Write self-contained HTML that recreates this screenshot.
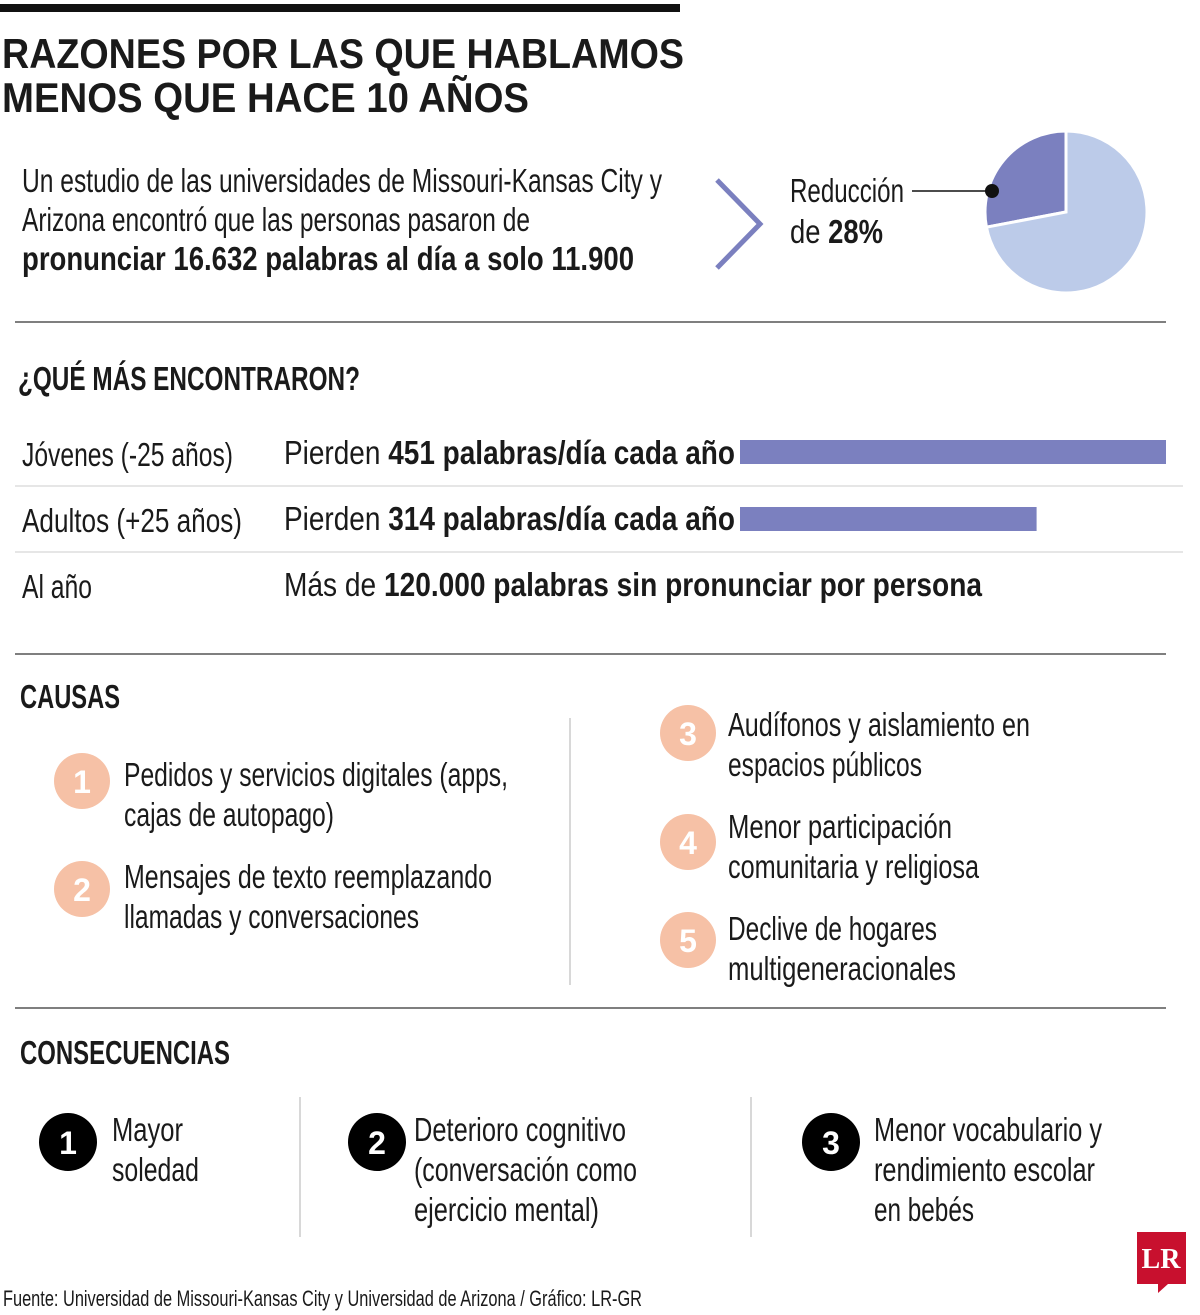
<!DOCTYPE html>
<html><head><meta charset="utf-8"><style>
html,body{margin:0;padding:0;background:#fff;}
svg{display:block;}
text{font-family:"Liberation Sans Narrow","Liberation Sans",sans-serif;fill:#1a1a1a;}
.b{font-weight:bold;}
</style></head><body>
<svg id="page" width="1200" height="1315" viewBox="0 0 1200 1315">
<rect x="0" y="4" width="680" height="8" fill="#111"/>
<text x="2" y="68" font-size="42" class="b" textLength="682" lengthAdjust="spacingAndGlyphs">RAZONES POR LAS QUE HABLAMOS</text>
<text x="2" y="112" font-size="42" class="b" textLength="527" lengthAdjust="spacingAndGlyphs">MENOS QUE HACE 10 AÑOS</text>

<g>
<text x="22" y="192" font-size="33" textLength="640" lengthAdjust="spacingAndGlyphs">Un estudio de las universidades de Missouri-Kansas City y</text>
<text x="22" y="231" font-size="33" textLength="508" lengthAdjust="spacingAndGlyphs">Arizona encontró que las personas pasaron de</text>
<text x="22" y="270" font-size="33" class="b" textLength="612" lengthAdjust="spacingAndGlyphs">pronunciar 16.632 palabras al día a solo 11.900</text>
</g>
<polyline points="717,180 760,224 717,268" fill="none" stroke="#7b80bf" stroke-width="5"/>
<text x="790" y="202" font-size="33" textLength="114" lengthAdjust="spacingAndGlyphs">Reducción</text>
<text x="790" y="243" font-size="33" textLength="93" lengthAdjust="spacingAndGlyphs">de <tspan class="b">28%</tspan></text>
<g id="pie"></g>
<line x1="912" y1="191" x2="992" y2="191" stroke="#111" stroke-width="1.5"/>
<circle cx="992" cy="191" r="7" fill="#111"/>

<line x1="15" y1="322" x2="1166" y2="322" stroke="#555" stroke-width="1.5"/>
<text x="18" y="390" font-size="33" class="b" textLength="342" lengthAdjust="spacingAndGlyphs">¿QUÉ MÁS ENCONTRARON?</text>
<text x="22" y="466" font-size="33" textLength="211" lengthAdjust="spacingAndGlyphs">Jóvenes (-25 años)</text>
<text x="284" y="464" font-size="33" textLength="451" lengthAdjust="spacingAndGlyphs">Pierden <tspan class="b">451 palabras/día cada año</tspan></text>
<line x1="15" y1="486" x2="1183" y2="486" stroke="#ccc" stroke-width="1"/>
<text x="22" y="532" font-size="33" textLength="220" lengthAdjust="spacingAndGlyphs">Adultos (+25 años)</text>
<text x="284" y="530" font-size="33" textLength="451" lengthAdjust="spacingAndGlyphs">Pierden <tspan class="b">314 palabras/día cada año</tspan></text>
<line x1="15" y1="552" x2="1183" y2="552" stroke="#ccc" stroke-width="1"/>
<text x="22" y="598" font-size="33" textLength="70" lengthAdjust="spacingAndGlyphs">Al año</text>
<text x="284" y="596" font-size="33" textLength="698" lengthAdjust="spacingAndGlyphs">Más de <tspan class="b">120.000 palabras sin pronunciar por persona</tspan></text>
<g id="bars"></g>

<line x1="15" y1="654" x2="1166" y2="654" stroke="#555" stroke-width="1.5"/>
<text x="20" y="708" font-size="33" class="b" textLength="100" lengthAdjust="spacingAndGlyphs">CAUSAS</text>
<line x1="570" y1="718" x2="570" y2="985" stroke="#ccc" stroke-width="1.5"/>
<g>
<circle cx="82" cy="781" r="28" fill="#f6c1a6"/><text x="82" y="793" font-size="32" class="b" text-anchor="middle" style="fill:#fff">1</text>
<text x="124" y="786" font-size="33" textLength="384" lengthAdjust="spacingAndGlyphs">Pedidos y servicios digitales (apps,</text>
<text x="124" y="826" font-size="33" textLength="210" lengthAdjust="spacingAndGlyphs">cajas de autopago)</text></g>
<g>
<circle cx="82" cy="889" r="28" fill="#f6c1a6"/><text x="82" y="901" font-size="32" class="b" text-anchor="middle" style="fill:#fff">2</text>
<text x="124" y="888" font-size="33" textLength="368" lengthAdjust="spacingAndGlyphs">Mensajes de texto reemplazando</text>
<text x="124" y="928" font-size="33" textLength="295" lengthAdjust="spacingAndGlyphs">llamadas y conversaciones</text></g>
<g>
<circle cx="688" cy="733" r="28" fill="#f6c1a6"/><text x="688" y="745" font-size="32" class="b" text-anchor="middle" style="fill:#fff">3</text>
<text x="728" y="736" font-size="33" textLength="302" lengthAdjust="spacingAndGlyphs">Audífonos y aislamiento en</text>
<text x="728" y="776" font-size="33" textLength="194" lengthAdjust="spacingAndGlyphs">espacios públicos</text></g>
<g>
<circle cx="688" cy="842" r="28" fill="#f6c1a6"/><text x="688" y="854" font-size="32" class="b" text-anchor="middle" style="fill:#fff">4</text>
<text x="728" y="838" font-size="33" textLength="224" lengthAdjust="spacingAndGlyphs">Menor participación</text>
<text x="728" y="878" font-size="33" textLength="251" lengthAdjust="spacingAndGlyphs">comunitaria y religiosa</text></g>
<g>
<circle cx="688" cy="940" r="28" fill="#f6c1a6"/><text x="688" y="952" font-size="32" class="b" text-anchor="middle" style="fill:#fff">5</text>
<text x="728" y="940" font-size="33" textLength="209" lengthAdjust="spacingAndGlyphs">Declive de hogares</text>
<text x="728" y="980" font-size="33" textLength="228" lengthAdjust="spacingAndGlyphs">multigeneracionales</text></g>

<line x1="15" y1="1008" x2="1166" y2="1008" stroke="#555" stroke-width="1.5"/>
<text x="20" y="1064" font-size="33" class="b" textLength="210" lengthAdjust="spacingAndGlyphs">CONSECUENCIAS</text>
<line x1="300" y1="1097" x2="300" y2="1237" stroke="#ccc" stroke-width="1.5"/>
<line x1="751" y1="1097" x2="751" y2="1237" stroke="#ccc" stroke-width="1.5"/>
<g>
<circle cx="68" cy="1142" r="29" fill="#000"/><text x="68" y="1154" font-size="32" class="b" text-anchor="middle" style="fill:#fff">1</text>
<text x="112" y="1141" font-size="33" textLength="71" lengthAdjust="spacingAndGlyphs">Mayor</text>
<text x="112" y="1181" font-size="33" textLength="87" lengthAdjust="spacingAndGlyphs">soledad</text></g>
<g>
<circle cx="377" cy="1142" r="29" fill="#000"/><text x="377" y="1154" font-size="32" class="b" text-anchor="middle" style="fill:#fff">2</text>
<text x="414" y="1141" font-size="33" textLength="212" lengthAdjust="spacingAndGlyphs">Deterioro cognitivo</text>
<text x="414" y="1181" font-size="33" textLength="223" lengthAdjust="spacingAndGlyphs">(conversación como</text>
<text x="414" y="1221" font-size="33" textLength="185" lengthAdjust="spacingAndGlyphs">ejercicio mental)</text></g>
<g>
<circle cx="831" cy="1142" r="29" fill="#000"/><text x="831" y="1154" font-size="32" class="b" text-anchor="middle" style="fill:#fff">3</text>
<text x="874" y="1141" font-size="33" textLength="228" lengthAdjust="spacingAndGlyphs">Menor vocabulario y</text>
<text x="874" y="1181" font-size="33" textLength="221" lengthAdjust="spacingAndGlyphs">rendimiento escolar</text>
<text x="874" y="1221" font-size="33" textLength="100" lengthAdjust="spacingAndGlyphs">en bebés</text></g>

<g>
<path d="M1137,1232 H1186 V1284 H1168 L1158,1293 V1284 H1137 Z" fill="#c8102e"/>
<text x="1161" y="1268" font-size="28" text-anchor="middle" style="fill:#fff;font-family:'Liberation Serif',serif;font-weight:bold">LR</text></g>
<text x="3" y="1306" font-size="22" textLength="639" lengthAdjust="spacingAndGlyphs">Fuente: Universidad de Missouri-Kansas City y Universidad de Arizona / Gráfico: LR-GR</text>
</svg>
<script>
const pieLabels = ["Reducción", "Resto"];
const pieValues = [28, 72];
const barCategories = ["Jóvenes (-25 años)", "Adultos (+25 años)"];
const barValues = [451, 314];

const NS = "http://www.w3.org/2000/svg";
// pie
(function(){
  const g = document.getElementById('pie');
  const cx = 1066, cy = 212, r = 81;
  const total = pieValues.reduce((a,b)=>a+b,0);
  const colors = ["#7b80bf", "#bccbe9"];
  let start = 0; // fraction, counterclockwise from top for first slice
  pieValues.forEach((v,i)=>{
    const a0 = -start*2*Math.PI, a1 = -(start+v/total)*2*Math.PI;
    const p = (a)=>[cx + r*Math.sin(a), cy - r*Math.cos(a)];
    const [x0,y0] = p(a0), [x1,y1] = p(a1);
    const large = v/total > 0.5 ? 1 : 0;
    const path = document.createElementNS(NS,'path');
    path.setAttribute('d', `M${cx},${cy} L${x0},${y0} A${r},${r} 0 ${large} 0 ${x1},${y1} Z`);
    path.setAttribute('fill', colors[i]);
    path.setAttribute('stroke', '#fff');
    path.setAttribute('stroke-width', '3');
    
    
    g.appendChild(path);
    start += v/total;
  });
})();
// bars
(function(){
  const g = document.getElementById('bars');
  const x0 = 740, maxW = 426, maxV = Math.max(...barValues);
  const xs = v => v / maxV * maxW;
  const ys = [440, 507];
  barValues.forEach((v,i)=>{
    const r = document.createElementNS(NS,'rect');
    r.setAttribute('x', x0);
    r.setAttribute('y', ys[i]);
    r.setAttribute('width', xs(v));
    r.setAttribute('height', 24);
    r.setAttribute('fill', '#7b80bf');
    
    
    g.appendChild(r);
  });
})();
</script>
</body></html>
